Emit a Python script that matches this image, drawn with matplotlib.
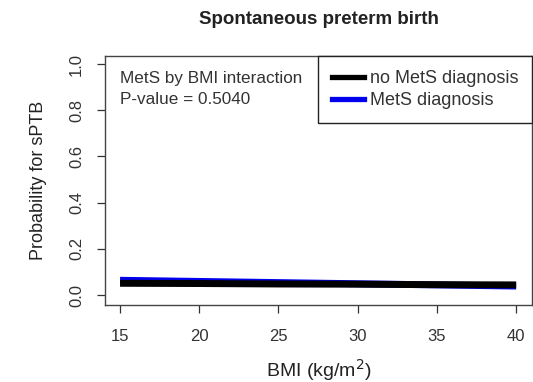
import matplotlib
matplotlib.use("Agg")
import matplotlib.pyplot as plt
from matplotlib.lines import Line2D

plt.rcParams['font.family'] = ['Liberation Sans', 'DejaVu Sans']

# Данные кривых
bmi = [15, 20, 25, 30, 35, 40]
p_no_mets = [0.051, 0.050, 0.048, 0.047, 0.045, 0.044]
p_mets = [0.064, 0.059, 0.054, 0.049, 0.044, 0.039]
yticks = [0.0, 0.2, 0.4, 0.6, 0.8, 1.0]
xticks = [15, 20, 25, 30, 35, 40]
labels = ["no MetS diagnosis", "MetS diagnosis"]
colors = ["black", "#0000ee"]

W, H = 533, 382
fig = plt.figure(figsize=(W / 100, H / 100), dpi=100)
# область графика в пикселях: x 105..532, y 56..305
ax = fig.add_axes([105 / W, (H - 305) / H, (532 - 105) / W, (305 - 56) / H])

ax.plot(bmi, p_mets, color=colors[1], lw=5, solid_capstyle="butt")
ax.plot(bmi, p_no_mets, color=colors[0], lw=5, solid_capstyle="butt")

ax.set_xlim(14.05, 41.0)
ax.set_ylim(-0.043, 1.035)
ax.set_xticks(xticks)
ax.set_yticks(yticks)
ax.set_yticklabels([f"{v:.1f}" for v in yticks], rotation=90, va="center")
ax.tick_params(direction="out", length=6, width=0.9, labelsize=12, colors="#333333")
ax.tick_params(axis="x", pad=11)
ax.tick_params(axis="y", pad=9)
for s in ax.spines.values():
    s.set_linewidth(1.0)
    s.set_color("#444444")

ax.set_xlabel("BMI (kg/m$^2$)", fontsize=14, color="#222222")
ax.xaxis.set_label_coords(0.5, (305 - 370) / 249)
ax.xaxis.label.set_va("center")
ax.set_ylabel("Probability for sPTB", fontsize=13, color="#222222")
ax.yaxis.set_label_coords((39 - 105) / 427, 0.5)
ax.yaxis.label.set_va("center")

fig.text((105 + 532) / 2 / W, 1 - 19 / H, "Spontaneous preterm birth",
         fontsize=13.5, fontweight="bold", ha="center", va="center", color="#222222")

ax.text(15 / 427, (305 - 79) / 249, "MetS by BMI interaction", transform=ax.transAxes,
        fontsize=12.3, va="center", ha="left", color="#333333")
ax.text(15 / 427, (305 - 99) / 249, "P-value = 0.5040", transform=ax.transAxes,
        fontsize=12.3, va="center", ha="left", color="#333333")

handles = [Line2D([], [], color=c, lw=3.8) for c in colors]
x0 = (318 - 105) / 427
leg = ax.legend(handles, labels, loc="upper left", bbox_to_anchor=(x0, 0, 1 - x0, 1),
                mode="expand", borderaxespad=0, fontsize=13, fancybox=False, framealpha=1,
                handlelength=1.75, handletextpad=0.35, borderpad=0.8,
                labelspacing=0.25, edgecolor="#222222")
leg.get_frame().set_linewidth(1.0)
for t in leg.get_texts():
    t.set_color("#333333")

fig.savefig("out.png", dpi=100)
